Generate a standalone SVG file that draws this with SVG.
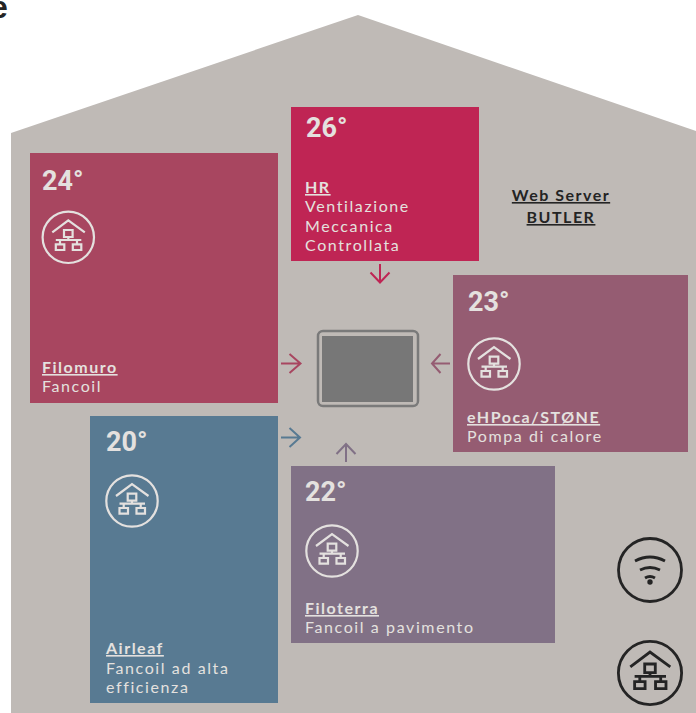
<svg xmlns="http://www.w3.org/2000/svg" width="696" height="713" viewBox="0 0 696 713">
<style>
.t{font-family:Roboto,sans-serif;font-weight:700;font-size:27px;fill:#e4e1df}
.l{font-family:Lato,"Noto Sans",sans-serif;font-size:16px;letter-spacing:1.6px;fill:#e4e1df}
.b{font-weight:700;text-decoration:underline;letter-spacing:1.5px}
.w{font-family:Lato,"Noto Sans",sans-serif;font-size:16px;font-weight:700;letter-spacing:1.5px;fill:#242424;text-anchor:middle;text-decoration:underline}
.ic{fill:none;stroke-width:2.2}
.a{fill:none;stroke-width:2}
</style>
<defs>
<symbol id="net" overflow="visible">
<circle cx="0" cy="0" r="25.7"/>
<path d="M-16-5L0-17L16.500-5M-4.300-7.300H4.300V-.3H-4.300ZM0-.3V2.700M-12.500 2.700H13M-8.300 2.700V7M8.700 2.700V7M-12.500 7H-4V12.700H-12.500ZM4.500 7H13V12.700H4.500Z"/>
</symbol>
</defs>
<text x="-10" y="18" font-family="Liberation Sans,sans-serif" font-weight="700" font-size="32" fill="#242424">e</text>
<path id="house" d="M11 133L358 15L696 131V713H11Z" fill="#bfbab6"/>
<g id="connectors">
<path class="a" stroke="#a84660" d="M281 363.500H300M289.500 354L300.500 363.500L289.500 373"/>
<path class="a" stroke="#bf2554" d="M380 264V282.500M370.500 272.500L380 282.500L389.500 272.500"/>
<path class="a" stroke="#955c72" d="M450 363.500H432M440.500 354L432 363.500L440.500 373"/>
<path class="a" stroke="#587a92" d="M281 437.500H300M289.500 428L300 437.500L289.500 447"/>
<path class="a" stroke="#817186" d="M346 462V444M336.500 454L346 444L355.500 454"/>
</g>
<g id="tablet">
<rect x="318" y="331" width="100" height="75" rx="5" fill="none" stroke="#7a7a7a" stroke-width="2.5"/>
<rect x="322" y="336" width="91" height="66" fill="#777777"/>
</g>
<g id="filomuro">
<rect x="30" y="153" width="248" height="250" fill="#a84660"/>
<text class="t" x="42" y="190">24°</text>
<use href="#net" x="68.300" y="237.300" class="ic" stroke="#e4e1df"/>
<text class="l" x="42" y="373"><tspan class="b">Filomuro</tspan><tspan x="42" dy="19">Fancoil</tspan></text>
</g>
<g id="hr">
<rect x="291" y="107" width="188" height="154" fill="#bf2554"/>
<text class="t" x="306" y="137">26°</text>
<text class="l" x="305" y="193"><tspan class="b">HR</tspan><tspan x="305" dy="19">Ventilazione</tspan><tspan x="305" dy="19.500">Meccanica</tspan><tspan x="305" dy="19.500">Controllata</tspan></text>
</g>
<g id="webserver">
<text class="w" x="561" y="201">Web Server</text>
<text class="w" x="561" y="223">BUTLER</text>
</g>
<g id="ehpoca">
<rect x="453" y="275" width="235" height="177" fill="#955c72"/>
<text class="t" x="468" y="311">23°</text>
<use href="#net" x="494" y="364" class="ic" stroke="#e4e1df"/>
<text class="l" x="467" y="423"><tspan class="b">eHPoca/STØNE</tspan><tspan x="467" dy="19">Pompa di calore</tspan></text>
</g>
<g id="airleaf">
<rect x="90" y="416" width="188" height="287" fill="#587a92"/>
<text class="t" x="106" y="451">20°</text>
<use href="#net" x="132" y="501" class="ic" stroke="#e4e1df"/>
<text class="l" x="106" y="654"><tspan class="b">Airleaf</tspan><tspan x="106" dy="19.500">Fancoil ad alta</tspan><tspan x="106" dy="19.500">efficienza</tspan></text>
</g>
<g id="filoterra">
<rect x="291" y="466" width="264" height="177" fill="#817186"/>
<text class="t" x="305" y="501">22°</text>
<use href="#net" x="332" y="551" class="ic" stroke="#e4e1df"/>
<text class="l" x="305" y="614"><tspan class="b">Filoterra</tspan><tspan x="305" dy="19">Fancoil a pavimento</tspan></text>
</g>
<g id="wifi" fill="none" stroke="#242424" stroke-width="2.800">
<circle cx="650" cy="570" r="31.500"/>
<path d="M635 561Q650 553 665 561M640 570Q650 565 660 570M645 578Q650 575 655 578"/>
<circle cx="650" cy="582" r="2.700" fill="#242424" stroke="none"/>
</g>
<g id="network">
<use href="#net" x="650" y="673" transform="translate(650 673) scale(1.230) translate(-650 -673)" fill="none" stroke="#242424" stroke-width="2.300"/>
</g>
</svg>
